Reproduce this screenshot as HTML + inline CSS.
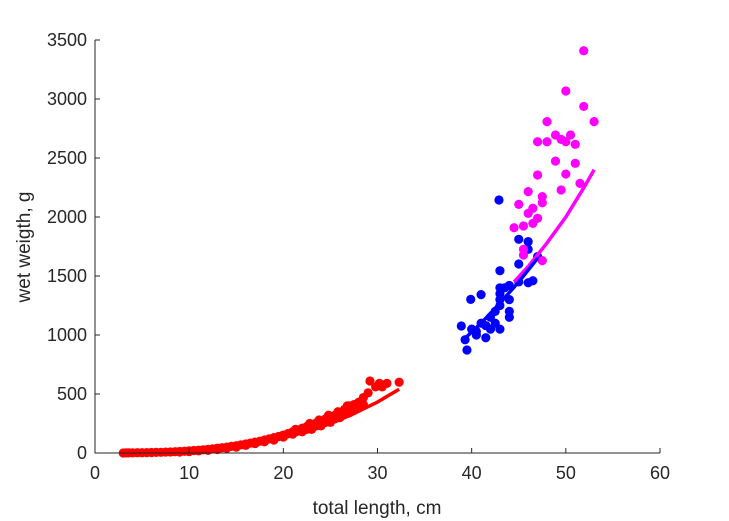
<!DOCTYPE html>
<html><head><meta charset="utf-8"><style>
body{margin:0;background:#fff;}
svg{display:block;font-family:"Liberation Sans",Arial,sans-serif;}
</style></head><body>
<svg id="chart" width="729" height="521" viewBox="0 0 729 521">
<g id="marks"></g>
<g id="axes"></g>
<text x="377" y="514" font-size="19" text-anchor="middle" fill="#262626">total length, cm</text>
<text transform="translate(30,247) rotate(-90)" font-size="19" text-anchor="middle" fill="#262626">wet weigth, g</text>
</svg>
<script>
const xTicks=[0,10,20,30,40,50,60];
const yTicks=[0,500,1000,1500,2000,2500,3000,3500];
const redL=[3,3.3,3.6,4,4.5,5,5.5,6,6.5,7,7.5,8,8.5,9,9.5,10,10.5,11,11.5,12,12.5,13,13.5,14,14.5,15,15.5,16,16.5,17,17.5,18,18.5,19,19.5,20,20.5,21,21.3,21.8,22,22.5,22.8,23,23.5,23.8,24,24.5,24.8,25,25.5,25.8,26,26.5,26.8,27,27.5,28,28.5,29,29.2,29.8,30.2,30.5,31,32.3,19,20,21,22,23,24,25,26,27,28,16,17,18,14,15,12,13,11,10,9,22.5,23.5,24.5,25.5,26.5,27.5,28.5];
const redW=[0,1,1,1,2,2,3,4,5,6,8,9,11,13,15,18,21,24,27,31,35,40,45,50,56,62,69,76,84,92,100,110,120,130,140,152,165,180,200,190,210,225,250,240,255,280,270,290,320,300,320,350,340,370,400,400,410,430,470,510,610,560,590,560,590,600,110,135,160,180,200,230,260,300,340,380,65,80,95,40,50,22,30,18,12,8,200,230,260,290,330,360,410];
const blueL=[42.9,39.5,38.9,39.9,41.0,41.5,45.0,46.0,46.0,45.0,43.0,47.0,46.0,46.5,39.3,40,40.5,41,42,42.5,43,43,43,43.5,44,44,44,42.5,43,44,45,42,40.5,41.5,43];
const blueW=[2144,873,1076,1302,1342,977,1811,1791,1726,1602,1545,1664,1443,1460,960,1050,1000,1100,1150,1200,1250,1300,1400,1400,1300,1200,1150,1100,1050,1420,1450,1050,1030,1080,1350];
const magL=[51.9,50.0,51.9,53.0,48.0,48.9,50.5,49.5,50.0,51.0,47.0,48.0,48.9,51.0,47.0,50.0,51.5,49.5,46.0,47.5,47.5,45.0,46.5,46.0,47.0,46.5,45.5,44.5,45.5,45.5,47.5];
const magW=[3409,3068,2937,2808,2808,2695,2695,2658,2638,2616,2638,2638,2474,2455,2356,2364,2285,2229,2215,2173,2121,2107,2074,2031,1989,1946,1924,1909,1726,1678,1630];
const redFitL=[3,6,9,12,15,18,21,24,27,30,32.3];
const redFitW=[0.4,3.5,12,28,54,93,148,221,315,432,540];
const blueFitL=[39,41,43,45,47];
const blueFitW=[950,1100,1270,1450,1650];
const magFitL=[44.5,46,48,50,52,53];
const magFitW=[1450,1580,1780,2000,2260,2400];

const X0=95,X1=660,Y0=453,Y1=40;
const sx=v=>X0+(v-0)/(60-0)*(X1-X0);
const sy=v=>Y0-(v-0)/(3500-0)*(Y0-Y1);
const NS="http://www.w3.org/2000/svg";
const marks=document.getElementById('marks'),axes=document.getElementById('axes');
function mk(t,a,p){const e=document.createElementNS(NS,t);for(const k in a)e.setAttribute(k,a[k]);p.appendChild(e);return e;}
function scatter(L,W,col,name){
  for(let i=0;i<L.length;i++){
    const c=mk('circle',{cx:sx(L[i]),cy:sy(W[i]),r:4.6,fill:col},marks);
    
    
  }
}
function line(L,W,col,name){
  const d=L.map((v,i)=>(i?'L':'M')+sx(v)+' '+sy(W[i])).join(' ');
  const p=mk('path',{d:d,fill:'none',stroke:col,'stroke-width':3.5},marks);
  
  
}
scatter(redL,redW,'#ff0000','red-point');
scatter(blueL,blueW,'#0000ff','blue-point');
scatter(magL,magW,'#ff00ff','magenta-point');
line(redFitL,redFitW,'#ff0000','red-fit-line');
line(magFitL,magFitW,'#ff00ff','magenta-fit-line');
line(blueFitL,blueFitW,'#0000ff','blue-fit-line');

const ax=mk('path',{d:`M${X0} ${Y1}V${Y0}H${X1}`,fill:'none',stroke:'#262626','stroke-width':1},axes);


xTicks.forEach(v=>{
  const t=mk('line',{x1:sx(v),x2:sx(v),y1:Y0,y2:Y0-5,stroke:'#262626'},axes);
  
  
  const l=mk('text',{x:sx(v),y:Y0+26,'font-size':18,'text-anchor':'middle',fill:'#262626'},axes);
  l.textContent=v;
  
  
});
yTicks.forEach(v=>{
  const t=mk('line',{x1:X0,x2:X0+5,y1:sy(v),y2:sy(v),stroke:'#262626'},axes);
  
  
  const l=mk('text',{x:X0-8,y:sy(v)+6,'font-size':18,'text-anchor':'end',fill:'#262626'},axes);
  l.textContent=v;
  
  
});
</script>
</body></html>
